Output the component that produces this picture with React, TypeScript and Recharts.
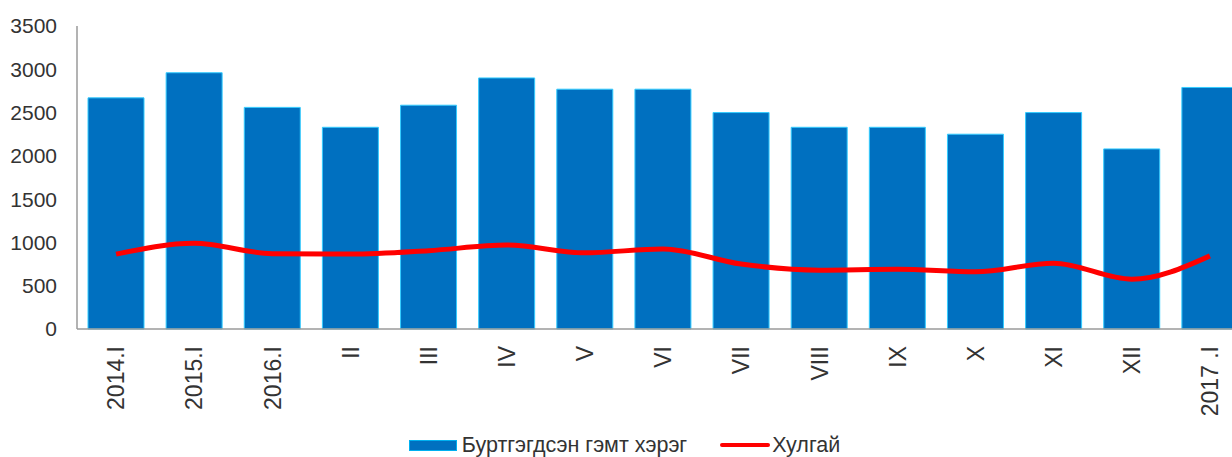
import React from "react";
import { ComposedChart, Bar, Line, XAxis, YAxis, Legend } from "recharts";

const categories = ["2014.I", "2015.I", "2016.I", "II", "III", "IV", "V", "VI", "VII", "VIII", "IX", "X", "XI", "XII", "2017 .I"];
const crimes = [2670, 2960, 2560, 2330, 2585, 2900, 2770, 2770, 2500, 2330, 2330, 2250, 2500, 2080, 2790];
const theft = [865, 990, 870, 865, 905, 970, 880, 925, 750, 680, 690, 660, 760, 575, 845];
const yTicks = [0, 500, 1000, 1500, 2000, 2500, 3000, 3500];
const crimeName = "Буртгэгдсэн гэмт хэрэг";
const theftName = "Хулгай";

const data = categories.map((c, i) => ({ cat: c, crimes: crimes[i], theft: theft[i] }));

const FONT = "'Liberation Sans', Arial, sans-serif";
const TEXT = "#333333";

const XTick = (props: any) => {
  const { x, y, payload } = props;
  return (
    <g transform={`translate(${x},${y + 17}) rotate(-90)`}>
      <text x={0} y={0} dy="0.36em" textAnchor="end" fontFamily={FONT} fontSize={23} fill={TEXT}>
        {payload.value}
      </text>
    </g>
  );
};

const LegendContent = () => (
  <div
    style={{
      display: "flex",
      alignItems: "center",
      justifyContent: "center",
      height: 24,
      lineHeight: "24px",
      fontFamily: FONT,
      fontSize: 21.5,
      color: TEXT,
      whiteSpace: "nowrap",
    }}
  >
    <span
      style={{
        display: "inline-block",
        width: 48,
        height: 11,
        background: "#0070C0",
        border: "1px solid #00B0F0",
        boxSizing: "border-box",
        marginRight: 5,
      }}
    />
    <span>{crimeName}</span>
    <span
      style={{
        display: "inline-block",
        width: 50,
        height: 4,
        background: "#FF0000",
        borderRadius: 2,
        marginLeft: 33,
        marginRight: 2,
      }}
    />
    <span>{theftName}</span>
  </div>
);

export default function App() {
  return (
    <div
      style={{
        position: "fixed",
        left: 0,
        top: 0,
        width: 1232,
        height: 457,
        overflow: "hidden",
        background: "#ffffff",
      }}
    >
      <ComposedChart
        width={1249}
        height={457}
        data={data}
        margin={{ top: 26, right: 0, bottom: 0, left: 0 }}
        barCategoryGap={11}
      >
        <XAxis
          dataKey="cat"
          interval={0}
          height={104}
          tickLine={false}
          tickSize={0}
          tickMargin={0}
          axisLine={{ stroke: "#9a9a9a", strokeWidth: 1.5 }}
          tick={<XTick />}
        />
        <YAxis
          width={77}
          domain={[0, 3500]}
          ticks={yTicks}
          interval={0}
          tickLine={false}
          tickSize={0}
          tickMargin={20}
          axisLine={{ stroke: "#9a9a9a", strokeWidth: 1.5 }}
          tick={{ fontFamily: FONT, fontSize: 21, fill: TEXT }}
        />
        <Legend verticalAlign="bottom" content={<LegendContent />} />
        <Bar dataKey="crimes" name={crimeName} fill="#0070C0" stroke="#33CCFF" strokeWidth={1} isAnimationActive={false} />
        <Line
          dataKey="theft"
          name={theftName}
          type="monotone"
          stroke="#FF0000"
          strokeWidth={5}
          dot={false}
          activeDot={false}
          isAnimationActive={false}
        />
      </ComposedChart>
    </div>
  );
}
